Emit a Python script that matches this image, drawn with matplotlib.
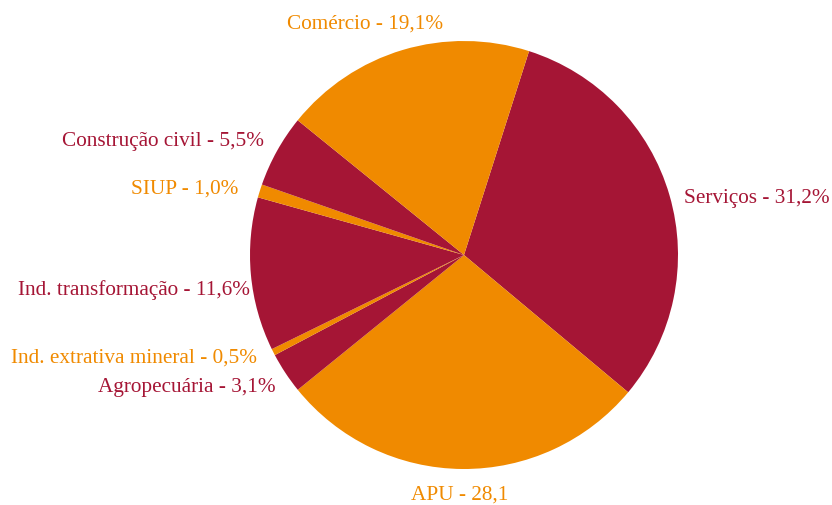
import matplotlib
matplotlib.use("Agg")
import matplotlib.pyplot as plt

# dados (sentido horário a partir de Serviços)
setores = ["Serviços", "APU", "Agropecuária", "Ind. extrativa mineral",
           "Ind. transformação", "SIUP", "Construção civil", "Comércio"]
valores = [31.2, 28.1, 3.1, 0.5, 11.6, 1.0, 5.5, 19.1]
rotulos = ["Serviços - 31,2%", "APU - 28,1", "Agropecuária - 3,1%",
           "Ind. extrativa mineral - 0,5%", "Ind. transformação - 11,6%",
           "SIUP - 1,0%", "Construção civil - 5,5%", "Comércio - 19,1%"]

VINHO = "#A51535"
LARANJA = "#F08A00"
cores = [VINHO, LARANJA, VINHO, LARANJA, VINHO, LARANJA, VINHO, LARANJA]

# posição dos rótulos em pixels da figura (x, y, alinhamento)
pos_rotulos = [(684, 199, "left"), (460, 495, "center"), (276, 388, "right"),
               (257, 358, "right"), (250, 290, "right"), (238, 189, "right"),
               (264, 142, "right"), (365, 24, "center")]

plt.rcParams["font.family"] = ["Liberation Serif", "DejaVu Serif"]

W, H = 832, 506
fig = plt.figure(figsize=(W / 100, H / 100), dpi=100)
ax = fig.add_axes([250 / W, 1 - 470 / H, 428 / W, 428 / H])
ax.pie(valores, colors=cores, startangle=72.3, counterclock=False,
       radius=1, wedgeprops=dict(linewidth=0))
ax.set_xlim(-1, 1)
ax.set_ylim(-1, 1)
ax.set_aspect("equal")
ax.axis("off")

for txt, cor, (px, py, ha) in zip(rotulos, cores, pos_rotulos):
    fig.text(px / W, 1 - py / H, txt, color=cor, fontsize=15.3,
             ha=ha, va="center")

fig.savefig("out.png", dpi=100)
